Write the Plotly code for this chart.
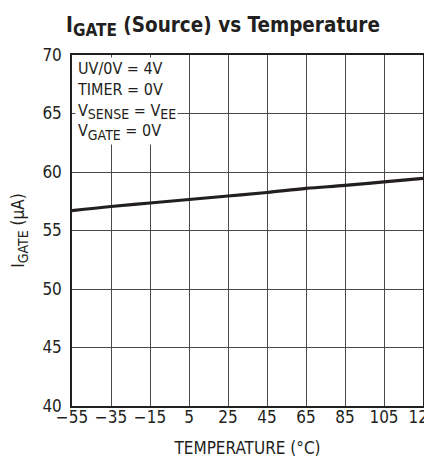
import plotly.graph_objects as go

temperature = [-55, -35, -15, 5, 25, 45, 65, 85, 105, 125]
igate_source = [56.7, 57.05, 57.35, 57.65, 57.95, 58.25, 58.6, 58.85, 59.15, 59.45]

x_ticks = [-55, -35, -15, 5, 25, 45, 65, 85, 105, 125]
x_ticktext = ["\u221255", "\u221235", "\u221215", "5", "25", "45", "65", "85", "105", "125"]
y_ticks = [40, 45, 50, 55, 60, 65, 70]

FONT = "Liberation Sans Narrow, DejaVu Sans Condensed, Arial Narrow, sans-serif"
GRID = "#4a4a4a"
INK = "#231f20"

# the page body adds an 8px offset, so the figure is sized to the visible area
W, H = 424, 451


def sub(s, size):
    return f"<sub><span style='font-size:{size}px'>{s}</span></sub>"


fig = go.Figure()
fig.add_trace(go.Scatter(
    x=temperature, y=igate_source, mode="lines",
    line=dict(color=INK, width=3.2, shape="spline"),
    showlegend=False, hoverinfo="skip",
))

fig.update_layout(
    width=W, height=H,
    margin=dict(l=64, r=9, t=47, b=53, autoexpand=False),
    paper_bgcolor="white", plot_bgcolor="white",
    font=dict(family=FONT, color=INK, size=16),
    title=dict(
        text=f"<b>I{sub('GATE', 17)} (Source) vs Temperature</b>",
        x=215 / W, xanchor="center", xref="container",
        y=1 - 17 / H, yanchor="middle", yref="container",
        font=dict(family=FONT, size=20.5, color=INK),
    ),
    xaxis=dict(
        range=[-55, 125], tickvals=x_ticks, ticktext=x_ticktext,
        showgrid=True, gridcolor=GRID, gridwidth=1,
        showline=True, linecolor=INK, linewidth=1.5, mirror=True,
        ticks="inside", ticklen=4, tickcolor=GRID,
        zeroline=False, tickfont=dict(size=17),
        ticklabeloverflow="allow", ticklabelstandoff=-5,
        automargin=False,
        title=dict(text="TEMPERATURE (\u00b0C)", font=dict(size=17), standoff=16),
    ),
    yaxis=dict(
        range=[40, 70], tickvals=y_ticks,
        showgrid=True, gridcolor=GRID, gridwidth=1,
        showline=True, linecolor=INK, linewidth=1.5, mirror=True,
        ticks="inside", ticklen=4, tickcolor=GRID,
        zeroline=False, tickfont=dict(size=17),
        ticklabelstandoff=5,
        automargin=False,
        title=dict(text=f"I{sub('GATE', 14)} (\u00b5A)", font=dict(size=17), standoff=28),
    ),
    annotations=[dict(
        xref="paper", yref="paper", x=0, y=1, xanchor="left", yanchor="top",
        xshift=3, yshift=-2,
        text=("UV/0V = 4V<br>TIMER = 0V<br>"
              f"V{sub('SENSE', 14)} = V{sub('EE', 14)}<br>"
              f"V{sub('GATE', 14)} = 0V"),
        showarrow=False, align="left", bgcolor="white", borderpad=1,
        font=dict(family=FONT, size=16, color=INK),
    )],
)

fig.write_html("out.html")
